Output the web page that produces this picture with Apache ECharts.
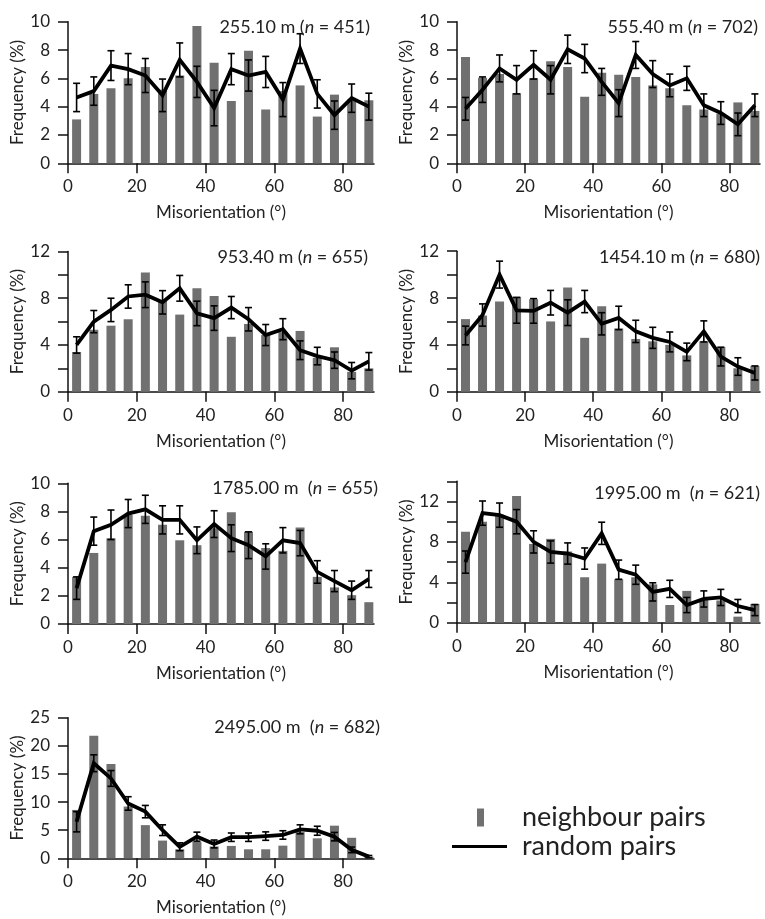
<!DOCTYPE html>
<html><head><meta charset="utf-8">
<script src="https://cdn.jsdelivr.net/npm/echarts@6/dist/echarts.min.js"></script>
<style>html,body{margin:0;padding:0;background:#fff}#c{width:765px;height:919px}</style>
</head><body><div id="c"></div>
<script>
// Bin centres (misorientation, degrees)
const bins = [2.5, 7.5, 12.5, 17.5, 22.5, 27.5, 32.5, 37.5, 42.5, 47.5, 52.5, 57.5, 62.5, 67.5, 72.5, 77.5, 82.5, 87.5];
const xTicks = [0, 20, 40, 60, 80];

// Panel 1: 255.10 m
const p1Depth = '255.10 m', p1N = '451';
const p1Bars = [3.1, 4.9, 5.3, 6.0, 6.8, 5.2, 6.2, 9.7, 7.1, 4.4, 7.95, 3.8, 5.1, 5.5, 3.3, 4.85, 4.5, 4.45];
const p1Mean = [4.65, 5.1, 6.9, 6.65, 6.2, 4.8, 7.3, 5.75, 3.9, 6.65, 6.2, 6.45, 4.5, 8.1, 4.9, 3.4, 4.6, 4.0];
const p1Err  = [1.0, 1.0, 1.05, 1.1, 1.2, 1.15, 1.2, 1.1, 1.25, 1.1, 1.1, 1.1, 1.2, 1.05, 1.0, 1.0, 1.0, 0.95];
const p1YTicks = [0, 2, 4, 6, 8, 10];

// Panel 2: 555.40 m
const p2Depth = '555.40 m', p2N = '702';
const p2Bars = [7.5, 6.05, 6.3, 4.95, 6.0, 7.2, 6.8, 4.7, 6.4, 6.25, 6.1, 5.5, 5.3, 4.1, 3.8, 3.5, 4.3, 3.7];
const p2Mean = [3.85, 5.2, 6.7, 5.9, 6.95, 5.9, 8.05, 7.4, 5.75, 4.25, 7.65, 6.3, 5.5, 6.0, 4.1, 3.55, 2.75, 4.1];
const p2Err  = [0.8, 0.9, 0.95, 1.0, 1.0, 1.0, 1.0, 1.0, 0.95, 0.95, 0.95, 0.95, 0.8, 0.85, 0.8, 0.8, 0.8, 0.8];
const p2YTicks = [0, 2, 4, 6, 8, 10];

// Panel 3: 953.40 m
const p3Depth = '953.40 m', p3N = '655';
const p3Bars = [3.4, 5.3, 5.65, 6.2, 10.2, 7.8, 6.6, 8.85, 8.2, 4.7, 5.8, 4.85, 5.1, 5.2, 2.9, 3.8, 1.7, 2.0];
const p3Mean = [4.0, 6.0, 7.0, 8.15, 8.3, 7.65, 8.85, 6.7, 6.3, 7.2, 6.2, 4.85, 5.35, 3.55, 3.05, 2.7, 1.8, 2.6];
const p3Err  = [0.7, 0.95, 1.0, 1.0, 1.1, 1.0, 1.1, 1.05, 1.05, 0.95, 1.0, 0.9, 0.9, 0.8, 0.75, 0.7, 0.7, 0.75];
const p3YTicks = [0, 2, 4, 6, 8, 10, 12];
const p3YLabels = [0, 4, 8, 12];

// Panel 4: 1454.10 m
const p4Depth = '1454.10 m', p4N = '680';
const p4Bars = [6.2, 6.5, 7.7, 8.1, 7.9, 6.0, 8.9, 4.6, 7.3, 5.4, 4.5, 4.3, 4.0, 3.1, 4.3, 3.8, 2.0, 2.2];
const p4Mean = [4.8, 6.55, 10.0, 6.95, 6.9, 7.6, 6.75, 7.7, 5.8, 6.3, 5.15, 4.6, 4.25, 3.4, 5.15, 3.0, 2.15, 1.6];
const p4Err  = [0.8, 0.95, 1.15, 1.1, 1.05, 1.05, 1.1, 0.95, 0.95, 1.0, 0.95, 0.9, 0.85, 0.75, 0.9, 0.8, 0.75, 0.6];
const p4YTicks = [0, 2, 4, 6, 8, 10, 12];
const p4YLabels = [0, 4, 8, 12];

// Panel 5: 1785.00 m
const p5Depth = '1785.00 m', p5N = '655';
const p5Bars = [3.35, 5.05, 6.1, 7.75, 7.7, 7.05, 5.95, 5.6, 6.8, 7.95, 6.55, 5.4, 5.2, 6.85, 3.35, 2.6, 2.05, 1.55];
const p5Mean = [2.55, 6.6, 7.05, 7.85, 8.15, 7.4, 7.4, 5.95, 7.1, 6.1, 5.6, 4.8, 5.95, 5.75, 3.7, 3.05, 2.4, 3.2];
const p5Err  = [0.8, 1.0, 1.05, 1.0, 1.0, 1.0, 1.0, 0.95, 0.95, 0.95, 0.95, 0.9, 0.9, 0.9, 0.8, 0.75, 0.65, 0.6];
const p5YTicks = [0, 2, 4, 6, 8, 10];

// Panel 6: 1995.00 m
const p6Depth = '1995.00 m', p6N = '621';
const p6Bars = [9.0, 10.0, 10.7, 12.55, 7.8, 8.3, 7.05, 4.5, 5.85, 4.3, 4.5, 3.8, 1.75, 3.15, 2.3, 2.2, 0.6, 1.85];
const p6Mean = [6.0, 10.85, 10.65, 10.0, 8.0, 7.0, 6.85, 6.35, 8.85, 5.25, 4.75, 3.05, 3.35, 1.75, 2.35, 2.5, 1.65, 1.25];
const p6Err  = [1.1, 1.2, 1.2, 1.2, 1.1, 1.1, 1.05, 1.05, 1.1, 0.95, 0.95, 0.9, 0.85, 0.75, 0.8, 0.8, 0.65, 0.55];
const p6YTicks = [0, 2, 4, 6, 8, 10, 12, 14];
const p6YLabels = [0, 4, 8, 12];

// Panel 7: 2495.00 m
const p7Depth = '2495.00 m', p7N = '682';
const p7Bars = [8.6, 21.8, 16.75, 9.2, 5.9, 3.15, 1.6, 2.95, 2.1, 2.2, 1.6, 1.6, 2.25, 4.7, 3.55, 5.8, 3.65, 0.3];
const p7Mean = [6.5, 16.9, 14.2, 9.75, 8.3, 5.0, 2.05, 3.85, 2.55, 3.75, 3.75, 3.95, 4.15, 5.15, 4.9, 3.85, 1.5, 0.3];
const p7Err  = [1.8, 1.5, 1.4, 1.2, 1.1, 0.95, 0.7, 0.8, 0.7, 0.75, 0.75, 0.75, 0.75, 0.8, 0.8, 0.75, 0.5, 0.2];
const p7YTicks = [0, 5, 10, 15, 20, 25];

const legendBar = 'neighbour pairs';
const legendLine = 'random pairs';

// ---------- assembly ----------
const FONT = 'Lato';
const TXT = '#222';
const panels = [
  {depth:p1Depth, n:p1N, bars:p1Bars, mean:p1Mean, err:p1Err, yt:p1YTicks, yl:p1YTicks, sep:' ',
   grid:{left:68, top:21.7, width:306, height:141.6}, title:{right:395, top:16}},
  {depth:p2Depth, n:p2N, bars:p2Bars, mean:p2Mean, err:p2Err, yt:p2YTicks, yl:p2YTicks, sep:' ',
   grid:{left:457, top:21.7, width:303, height:141.6}, title:{right:7, top:16}},
  {depth:p3Depth, n:p3N, bars:p3Bars, mean:p3Mean, err:p3Err, yt:p3YTicks, yl:p3YLabels, sep:' ',
   grid:{left:68, top:251.5, width:306, height:140.2}, title:{right:397, top:246}},
  {depth:p4Depth, n:p4N, bars:p4Bars, mean:p4Mean, err:p4Err, yt:p4YTicks, yl:p4YLabels, sep:' ',
   grid:{left:457, top:251.2, width:303, height:140.5}, title:{right:5, top:246}},
  {depth:p5Depth, n:p5N, bars:p5Bars, mean:p5Mean, err:p5Err, yt:p5YTicks, yl:p5YTicks, sep:'  ',
   grid:{left:68, top:483.3, width:306, height:140.7}, title:{right:387, top:477}},
  {depth:p6Depth, n:p6N, bars:p6Bars, mean:p6Mean, err:p6Err, yt:p6YTicks, yl:p6YLabels, sep:'  ',
   grid:{left:457, top:481.3, width:303, height:141.4}, title:{right:5, top:482}},
  {depth:p7Depth, n:p7N, bars:p7Bars, mean:p7Mean, err:p7Err, yt:p7YTicks, yl:p7YTicks, sep:'  ',
   grid:{left:68, top:717.7, width:306, height:140.6}, title:{right:385, top:716}}
];

const axisLineStyle = {color:'#111', width:1.5};
const grids = [], xAxes = [], yAxes = [], series = [], titles = [];

panels.forEach((p, i) => {
  grids.push(Object.assign({containLabel:false}, p.grid));
  titles.push({
    text: '{t|' + p.depth + p.sep + '(}{i|n}{t| = ' + p.n + ')}',
    right: p.title.right, top: p.title.top, padding: 0,
    textStyle: {fontWeight:'normal', rich: {
      t: {fontSize:18, fontFamily:FONT, color:TXT, fontWeight:'normal', lineHeight:22},
      i: {fontSize:18, fontFamily:FONT, color:TXT, fontWeight:'normal', fontStyle:'italic', lineHeight:22}
    }}
  });
  xAxes.push({
    type:'value', gridIndex:i, min:0, max:89, interval:20,
    axisLine:{show:true, onZero:false, lineStyle:axisLineStyle},
    axisTick:{show:true, length:10, customValues:xTicks, lineStyle:axisLineStyle},
    axisLabel:{customValues:xTicks, margin:15, fontSize:17, fontFamily:FONT, color:TXT},
    splitLine:{show:false},
    name:'Misorientation (°)', nameLocation:'middle', nameGap:41,
    nameTextStyle:{fontSize:17, fontFamily:FONT, color:TXT}
  });
  const ymax = p.yt[p.yt.length - 1];
  yAxes.push({
    type:'value', gridIndex:i, min:0, max:ymax, interval:p.yt[1] - p.yt[0],
    axisLine:{show:true, onZero:false, lineStyle:axisLineStyle},
    axisTick:{show:true, length:10, customValues:p.yt, lineStyle:axisLineStyle},
    axisLabel:{customValues:p.yl, margin:18, fontSize:17, fontFamily:FONT, color:TXT},
    splitLine:{show:false},
    name:'Frequency (%)', nameLocation:'middle', nameGap:40, nameRotate:90,
    nameTextStyle:{fontSize:17, fontFamily:FONT, color:TXT}
  });
  series.push({
    type:'bar', name:legendBar, xAxisIndex:i, yAxisIndex:i,
    barWidth:9, itemStyle:{color:'#707070'}, color:'#707070', z:2,
    data: bins.map((b, k) => [b, p.bars[k]])
  });
  series.push({
    type:'custom', name:'err' + i, xAxisIndex:i, yAxisIndex:i, z:4,
    data: bins.map((b, k) => [b, p.mean[k] - p.err[k], p.mean[k] + p.err[k]]),
    renderItem: function (params, api) {
      const x = api.value(0);
      const lo = api.coord([x, api.value(1)]);
      const hi = api.coord([x, api.value(2)]);
      const c = 3.5;
      const st = {stroke:'#000', lineWidth:1.6};
      return {type:'group', children:[
        {type:'line', shape:{x1:lo[0], y1:lo[1], x2:hi[0], y2:hi[1]}, style:st},
        {type:'line', shape:{x1:lo[0]-c, y1:lo[1], x2:lo[0]+c, y2:lo[1]}, style:st},
        {type:'line', shape:{x1:hi[0]-c, y1:hi[1], x2:hi[0]+c, y2:hi[1]}, style:st}
      ]};
    }
  });
  series.push({
    type:'line', name:legendLine, xAxisIndex:i, yAxisIndex:i, z:5,
    symbol:'none', showSymbol:false, color:'#000', itemStyle:{color:'#000'},
    lineStyle:{color:'#000', width:3.8, join:'miter'},
    data: bins.map((b, k) => [b, p.mean[k]])
  });
});

const chart = echarts.init(document.getElementById('c'));
chart.setOption({
  animation:false,
  backgroundColor:'#fff',
  title: titles,
  grid: grids,
  xAxis: xAxes,
  yAxis: yAxes,
  legend: [
    {data:[{name:legendBar, icon:'rect'}], left:477, top:804, padding:0, itemWidth:7, itemHeight:18,
     selectedMode:false, textStyle:{fontSize:27, fontFamily:FONT, color:TXT, padding:[0,0,0,33]}},
    {data:[{name:legendLine, icon:'rect'}], left:452, top:833, padding:0, itemWidth:55, itemHeight:3,
     selectedMode:false, itemStyle:{color:'#000'}, textStyle:{fontSize:27, fontFamily:FONT, color:TXT, padding:[0,0,0,10]}}
  ],
  series: series
});
</script></body></html>
